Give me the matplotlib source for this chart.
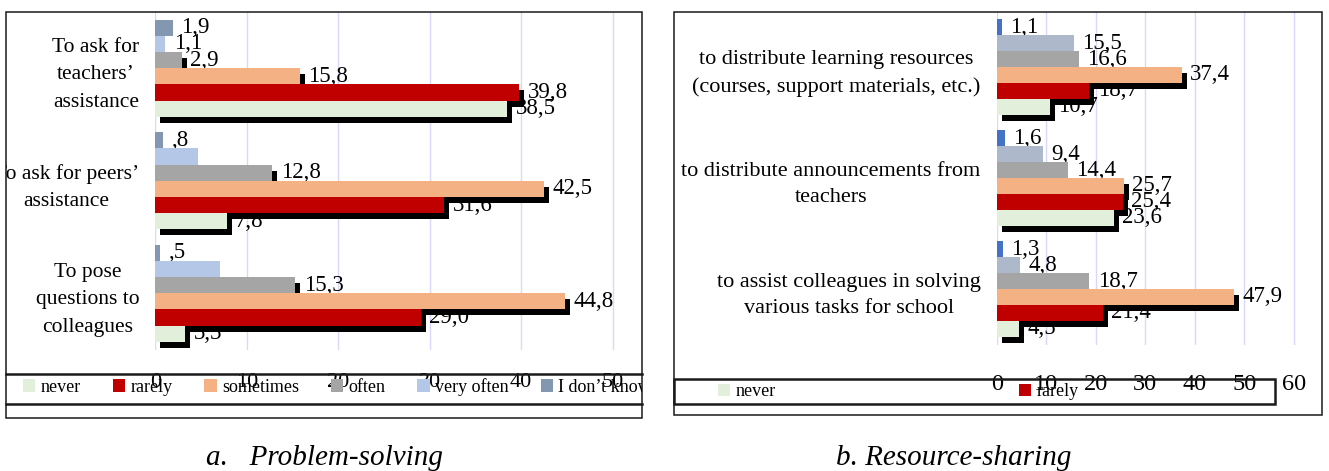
import matplotlib.pyplot as plt
import numpy as np
from matplotlib.lines import Line2D
from matplotlib.patches import Rectangle
from matplotlib.transforms import Bbox, ScaledTranslation, TransformedBbox

plt.rcParams['font.family'] = 'Liberation Serif'

W, H = 1329, 471

levels = ["never", "rarely", "sometimes", "often", "very often", "I don’t know"]

# a. Problem-solving
problem_tasks = ["To ask for\nteachers’\nassistance",
                 "To ask for peers’\nassistance",
                 "To pose\nquestions to\ncolleagues"]
problem_never = [38.5, 7.8, 3.3]
problem_rarely = [39.8, 31.6, 29.0]
problem_sometimes = [15.8, 42.5, 44.8]
problem_often = [2.9, 12.8, 15.3]
problem_very_often = [1.1, 4.7, 7.1]
problem_dont_know = [1.9, 0.8, 0.5]

# b. Resource-sharing
sharing_tasks = ["to distribute learning resources\n(courses, support materials, etc.)",
                 "to distribute announcements from\nteachers",
                 "to assist colleagues in solving\nvarious tasks for school"]
sharing_never = [10.7, 23.6, 4.5]
sharing_rarely = [18.7, 25.4, 21.4]
sharing_sometimes = [37.4, 25.7, 47.9]
sharing_often = [16.6, 14.4, 18.7]
sharing_very_often = [15.5, 9.4, 4.8]
sharing_dont_know = [1.1, 1.6, 1.3]

colors_a = ["#E2EFDA", "#C00000", "#F4B183", "#A5A5A5", "#B4C7E7", "#8497B0"]
colors_b = ["#E2EFDA", "#C00000", "#F4B183", "#A5A5A5", "#ADB9CA", "#4472C4"]
grid_color = "#D8D8FA"


def fx(px):
    return px / W


def fy(py):
    return 1 - py / H


def value_text(v):
    s = f"{v:.1f}".replace(".", ",")
    return s[1:] if s.startswith("0") else s


fig = plt.figure(figsize=(W / 100, H / 100), dpi=100)

ax_a = fig.add_axes([fx(155.3), fy(349.5), (641.7 - 155.3) / W, (349.5 - 12) / H])
ax_b = fig.add_axes([fx(996.7), fy(344.5), (1322 - 996.7) / W, (344.5 - 11.5) / H])

shadow_shift = ScaledTranslation(5 / 100, -6 / 100, fig.dpi_scale_trans)


def draw_panel(ax, tasks, series, colors, shadowed, hidden, xmax, ticks,
               tick_size, tick_pad, cat_size, cat_spacing):
    y = np.arange(len(tasks))
    h = 0.144
    containers = []
    for k, (vals, color) in enumerate(zip(series, colors)):
        pos = y + (2.5 - k) * h
        if k in shadowed:
            sh = ax.barh(pos, vals, height=h, color="black", zorder=2)
            for p in sh:
                p.set_transform(ax.transData + shadow_shift)
        bars = ax.barh(pos, vals, height=h, color=color, zorder=3)
        containers.append(bars)
        for j, (v, p) in enumerate(zip(vals, pos)):
            if (k, j) in hidden:
                continue
            ax.annotate(value_text(v), xy=(v, p), xytext=(6, 0), textcoords="offset points",
                        ha="left", va="center", fontsize=16.5, zorder=1.5,
                        annotation_clip=False)
    ax.set_ylim(len(tasks) - 0.5, -0.5)
    ax.set_xlim(0, xmax)
    ax.set_xticks(ticks)
    ax.set_yticks(y, tasks)
    for t in ax.get_yticklabels():
        t.set_multialignment("center")
        t.set_linespacing(cat_spacing)
    ax.tick_params(axis="y", length=0, pad=11.5, labelsize=cat_size)
    ax.tick_params(axis="x", length=0, pad=tick_pad, labelsize=tick_size)
    ax.set_axisbelow(True)
    ax.grid(axis="x", color=grid_color, lw=1)
    for s in ax.spines.values():
        s.set_visible(False)
    ax.set_facecolor("none")
    return containers


bars_a = draw_panel(ax_a, problem_tasks,
                    [problem_never, problem_rarely, problem_sometimes,
                     problem_often, problem_very_often, problem_dont_know],
                    colors_a, shadowed={0, 1, 2, 3}, hidden={(4, 1), (4, 2)},
                    xmax=53.17, ticks=range(0, 51, 10), tick_size=16, tick_pad=17,
                    cat_size=15.5, cat_spacing=1.6)
bars_b = draw_panel(ax_b, sharing_tasks,
                    [sharing_never, sharing_rarely, sharing_sometimes,
                     sharing_often, sharing_very_often, sharing_dont_know],
                    colors_b, shadowed={0, 1, 2}, hidden=set(),
                    xmax=65.65, ticks=range(0, 61, 10), tick_size=17.5, tick_pad=21,
                    cat_size=16, cat_spacing=1.55)

clip_a = TransformedBbox(Bbox.from_extents(fx(6), fy(418), fx(642), fy(12)), fig.transFigure)
for t in ax_a.get_yticklabels():
    t.set_clip_box(clip_a)
    t.set_clip_on(True)

em = 13 * 100 / 72
leg_a = fig.legend(bars_a, levels, ncol=6, loc="center left",
                   bbox_to_anchor=(fx(23), fy(387)), frameon=False, fontsize=13,
                   handlelength=0.67, handleheight=0.67, handletextpad=0.3,
                   columnspacing=32 / em, borderpad=0, borderaxespad=0)
for t in leg_a.get_texts():
    t.set_clip_box(clip_a)
    t.set_clip_on(True)

fig.legend(bars_b[:2], levels[:2], ncol=2, loc="center left",
           bbox_to_anchor=(fx(718), fy(392)), frameon=False, fontsize=13,
           handlelength=0.67, handleheight=0.67, handletextpad=0.3,
           columnspacing=243 / em, borderpad=0, borderaxespad=0)

# panel frames and legend boxes
def frame(x0, y0, x1, y1, lw):
    fig.add_artist(Rectangle((fx(x0), fy(y1)), (x1 - x0) / W, (y1 - y0) / H,
                             transform=fig.transFigure, fill=False, ec="#1a1a1a", lw=lw))


def hline(x0, x1, yy, lw):
    fig.add_artist(Line2D([fx(x0), fx(x1)], [fy(yy), fy(yy)],
                          transform=fig.transFigure, color="#1a1a1a", lw=lw))


frame(6, 12, 642, 418, 1.1)
hline(6, 642, 374, 1.8)
hline(6, 642, 404, 1.8)

frame(674, 12, 1322, 415, 1.1)
frame(674, 379, 1275, 404, 1.8)

fig.text(fx(325), fy(458), "a.   Problem-solving", style="italic", fontsize=21,
         ha="center", va="center")
fig.text(fx(954), fy(458), "b. Resource-sharing", style="italic", fontsize=21,
         ha="center", va="center")

fig.savefig("out.png", dpi=100)
